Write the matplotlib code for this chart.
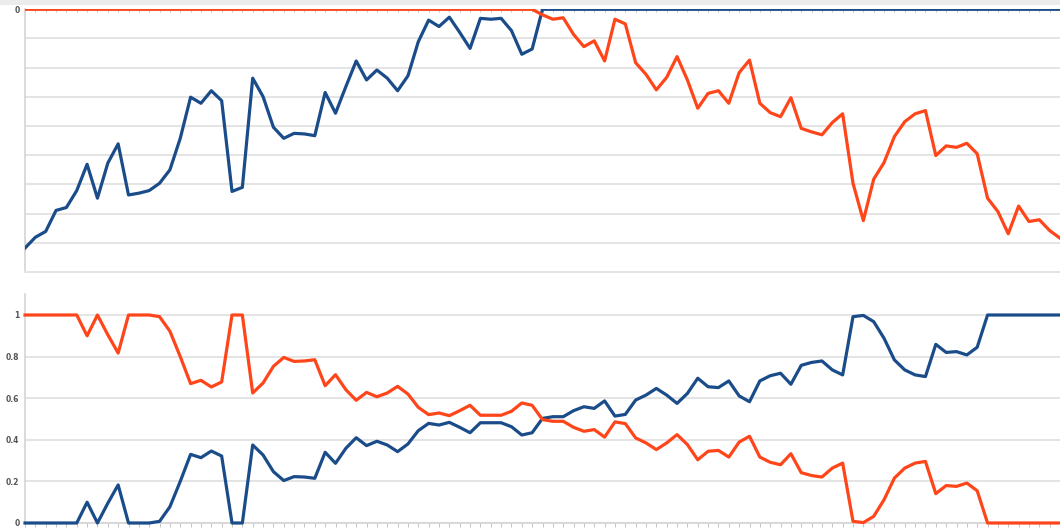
import matplotlib
matplotlib.use("Agg")
import matplotlib.pyplot as plt
from matplotlib.patches import Rectangle

# ---- data -------------------------------------------------------------
steps = list(range(101))

# upper panel: running scores (one gridline = one unit)
score_blue = [
    -8.18, -7.81, -7.61, -6.89, -6.79, -6.21, -5.31, -6.47, -5.27, -4.61,
    -6.36, -6.30, -6.21, -5.96, -5.50, -4.42, -3.01, -3.22, -2.79, -3.13,
    -6.24, -6.10, -2.36, -2.99, -4.04, -4.42, -4.25, -4.27, -4.33, -2.85,
    -3.56, -2.65, -1.77, -2.42, -2.08, -2.36, -2.79, -2.28, -1.11, -0.37,
    -0.59, -0.27, -0.79, -1.34, -0.31, -0.34, -0.31, -0.73, -1.54, -1.36,
    0, 0, 0, 0, 0, 0, 0, 0, 0, 0,
    0, 0, 0, 0, 0, 0, 0, 0, 0, 0,
    0, 0, 0, 0, 0, 0, 0, 0, 0, 0,
    0, 0, 0, 0, 0, 0, 0, 0, 0, 0,
    0, 0, 0, 0, 0, 0, 0, 0, 0, 0,
    0,
]
score_orange = [
    0, 0, 0, 0, 0, 0, 0, 0, 0, 0,
    0, 0, 0, 0, 0, 0, 0, 0, 0, 0,
    0, 0, 0, 0, 0, 0, 0, 0, 0, 0,
    0, 0, 0, 0, 0, 0, 0, 0, 0, 0,
    0, 0, 0, 0, 0, 0, 0, 0, 0, 0,
    -0.19, -0.34, -0.29, -0.86, -1.28, -1.08, -1.77, -0.34, -0.50, -1.83,
    -2.23, -2.76, -2.33, -1.62, -2.42, -3.39, -2.88, -2.79, -3.22, -2.17,
    -1.74, -3.22, -3.54, -3.68, -3.03, -4.08, -4.20, -4.30, -3.88, -3.58,
    -5.96, -7.24, -5.82, -5.25, -4.36, -3.85, -3.58, -3.47, -5.01, -4.68,
    -4.73, -4.59, -4.95, -6.47, -6.93, -7.69, -6.74, -7.27, -7.21, -7.58,
    -7.84,
]

# lower panel: shares of the two series
share_blue = [
    0, 0, 0, 0, 0, 0, 0.10, 0.0, 0.095, 0.183,
    0, 0, 0, 0.008, 0.078, 0.20, 0.33, 0.314, 0.346, 0.322,
    0, 0, 0.375, 0.327, 0.247, 0.204, 0.223, 0.221, 0.215, 0.34,
    0.287, 0.359, 0.41, 0.372, 0.393, 0.375, 0.343, 0.38, 0.444, 0.479,
    0.471, 0.484, 0.46, 0.434, 0.482, 0.482, 0.482, 0.463, 0.423, 0.434,
    0.503, 0.511, 0.511, 0.54, 0.559, 0.551, 0.587, 0.514, 0.522, 0.591,
    0.615, 0.647, 0.615, 0.575, 0.623, 0.696, 0.655, 0.651, 0.683, 0.611,
    0.583, 0.683, 0.708, 0.72, 0.667, 0.758, 0.772, 0.779, 0.736, 0.712,
    0.992, 0.998, 0.968, 0.888, 0.784, 0.736, 0.712, 0.704, 0.859, 0.82,
    0.824, 0.808, 0.845, 1, 1, 1, 1, 1, 1, 1,
    1,
]
share_orange = [
    1, 1, 1, 1, 1, 1, 0.90, 1.0, 0.905, 0.817,
    1, 1, 1, 0.992, 0.922, 0.80, 0.67, 0.686, 0.654, 0.678,
    1, 1, 0.625, 0.673, 0.753, 0.796, 0.777, 0.779, 0.785, 0.66,
    0.713, 0.641, 0.59, 0.628, 0.607, 0.625, 0.657, 0.62, 0.556, 0.521,
    0.529, 0.516, 0.54, 0.566, 0.518, 0.518, 0.518, 0.537, 0.577, 0.566,
    0.497, 0.489, 0.489, 0.46, 0.441, 0.449, 0.413, 0.486, 0.478, 0.409,
    0.385, 0.353, 0.385, 0.425, 0.377, 0.304, 0.345, 0.349, 0.317, 0.389,
    0.417, 0.317, 0.292, 0.28, 0.333, 0.242, 0.228, 0.221, 0.264, 0.288,
    0.008, 0.002, 0.032, 0.112, 0.216, 0.264, 0.288, 0.296, 0.141, 0.18,
    0.176, 0.192, 0.155, 0, 0, 0, 0, 0, 0, 0,
    0,
]

share_ticks = [0, 0.2, 0.4, 0.6, 0.8, 1]
share_labels = ["0", "0.2", "0.4", "0.6", "0.8", "1"]
score_grid = [-9, -8, -7, -6, -5, -4, -3, -2, -1]

# ---- styling ----------------------------------------------------------
BLUE = "#1b4c8a"
ORANGE = "#ff451a"
GRID = "#e4e4e4"
AXIS = "#d4d4d4"
LABEL = "#555555"
LW = 2.3

W, H = 1060, 529
fig = plt.figure(figsize=(W / 100, H / 100), dpi=100)
fig.patch.set_facecolor("white")

# faint band along the top edge
fig.patches.append(Rectangle((0, 1 - 5 / H), 1, 5 / H, transform=fig.transFigure,
                             facecolor="#ececec", edgecolor="none", zorder=0))


def frac_y(px):
    return 1 - px / H


left = 25 / W
width = 1 - left
xmax = (W - 25) / 10.36

# upper panel
ax1 = fig.add_axes([left, frac_y(272), width, frac_y(9.3) - frac_y(272)])
ax1.plot(steps, score_blue, color=BLUE, lw=LW, solid_joinstyle="round", zorder=3)
ax1.plot(steps, score_orange, color=ORANGE, lw=LW, solid_joinstyle="round", zorder=3)
ax1.set_xlim(0, xmax)
ax1.set_ylim(-9, 0)
ax1.set_yticks(score_grid + [0])
ax1.set_yticklabels([""] * len(score_grid) + ["0"])
ax1.yaxis.grid(True, color=GRID, lw=1.4, zorder=0)
ax1.set_xticks(steps)
ax1.xaxis.tick_top()
ax1.tick_params(axis="x", direction="in", length=2.5, width=0.6, color="#bbbbbb",
                labeltop=False, labelbottom=False)
ax1.tick_params(axis="y", length=0, pad=4, labelsize=5.5, labelcolor=LABEL)
for lab in ax1.get_yticklabels():
    lab.set_fontweight("bold")
for side in ("top", "right"):
    ax1.spines[side].set_visible(False)
ax1.spines["left"].set_color(AXIS)
ax1.spines["left"].set_linewidth(1.2)
ax1.spines["bottom"].set_color(GRID)
ax1.spines["bottom"].set_linewidth(1.4)

# lower panel
ax2 = fig.add_axes([left, frac_y(523), width, frac_y(294) - frac_y(523)])
ax2.plot(steps, share_blue, color=BLUE, lw=LW, solid_joinstyle="round",
         zorder=3, clip_on=False)
ax2.plot(steps, share_orange, color=ORANGE, lw=LW, solid_joinstyle="round",
         zorder=3, clip_on=False)
ax2.set_xlim(0, xmax)
ax2.set_ylim(0, (523 - 294) / 208)
ax2.set_yticks(share_ticks)
ax2.set_yticklabels(share_labels)
ax2.yaxis.grid(True, color=GRID, lw=1.4, zorder=0)
ax2.set_xticks(steps)
ax2.tick_params(axis="x", direction="out", length=3, width=0.6, color="#bbbbbb",
                labelbottom=False)
ax2.tick_params(axis="y", length=0, pad=4, labelsize=5.5, labelcolor=LABEL)
for lab in ax2.get_yticklabels():
    lab.set_fontweight("bold")
for side in ("top", "right"):
    ax2.spines[side].set_visible(False)
ax2.spines["left"].set_color(AXIS)
ax2.spines["left"].set_linewidth(1.2)
ax2.spines["bottom"].set_color(AXIS)
ax2.spines["bottom"].set_linewidth(1.2)

fig.savefig("out.png", dpi=100, facecolor="white")
